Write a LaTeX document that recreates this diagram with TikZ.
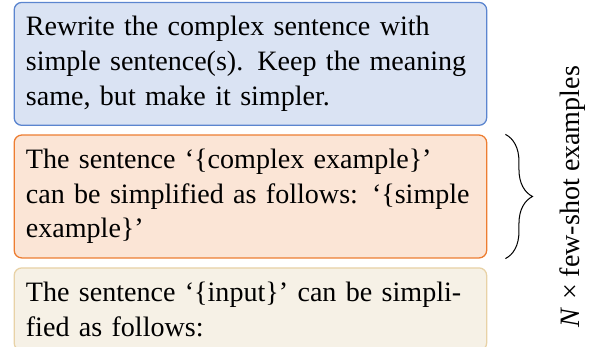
\documentclass[tikz,border=0pt]{standalone}
\usepackage{fontspec}
\setmainfont{Liberation Serif}
\usepackage{tikz}
\usetikzlibrary{positioning,decorations.pathreplacing}
\definecolor{instrline}{HTML}{5B85CF}
\definecolor{instrfill}{HTML}{DAE3F3}
\definecolor{shotline}{HTML}{ED7D31}
\definecolor{shotfill}{HTML}{FBE5D6}
\definecolor{queryline}{HTML}{E8D2A6}
\definecolor{queryfill}{HTML}{F6F1E6}

\begin{document}
\begin{tikzpicture}[
    font=\fontsize{11}{13.6}\selectfont,
    box/.style={draw,rounded corners=3pt,line width=0.5pt,text width=176pt,
      inner xsep=4.6pt,inner ysep=5.5pt,align=left},
    instr/.style={box,draw=instrline,fill=instrfill},
    shot/.style={box,draw=shotline,fill=shotfill},
    query/.style={box,draw=queryline,fill=queryfill},
    brace/.style={decorate,decoration={brace,amplitude=10.6pt},thin},
  ]
    \useasboundingbox (0,0) rectangle (233.2pt,-136pt);
    \node[instr,anchor=north west] (instruction) at (5.3pt,-0.7pt)
      {Rewrite the complex sentence with simple sentence(s). Keep the meaning same, but make it simpler.};
    \node[shot,below=3.3pt of instruction] (example)
      {The sentence `\{complex example\}' can be simplified as follows: `\{simple example\}'};
    \node[query,below=3.4pt of example] (input)
      {The sentence `\{input\}' can be simplified as follows:};

    \draw[brace] ([xshift=7.1pt]example.north east) -- ([xshift=7.1pt]example.south east)
      node[midway,xshift=26.2pt,rotate=90] (shots) {\textit{N} × few-shot examples};
  \end{tikzpicture}
\end{document}
